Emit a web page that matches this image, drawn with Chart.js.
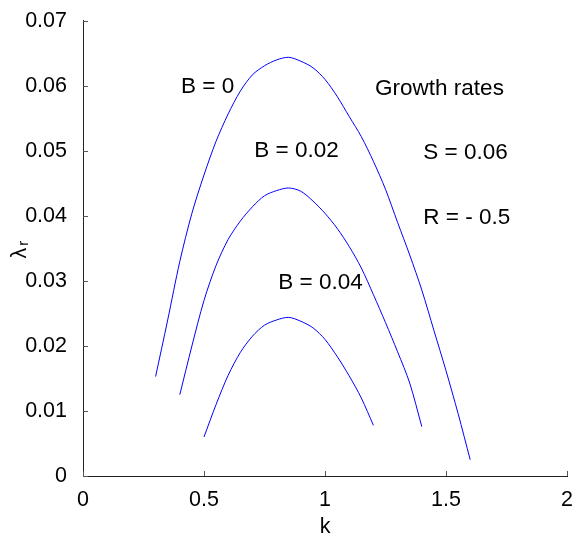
<!DOCTYPE html>
<html lang="en">
<head>
  <meta charset="UTF-8">
  <title>Growth rates</title>
  <script src="https://cdn.jsdelivr.net/npm/chart.js@4"></script>
  <style>
    html, body { margin: 0; padding: 0; background: #fff; }
    #wrap { width: 585px; height: 540px; }
  </style>
</head>
<body>
<div id="wrap"><canvas id="myChart" width="585" height="540"></canvas></div>
<script>
// wavenumber k, growth rate lambda_r for three values of B
var k0 = [0.30,0.35,0.40,0.45,0.50,0.55,0.60,0.65,0.70,0.75,0.80,0.85,0.90,0.95,1.00,1.05,1.10,1.15,1.20,1.25,1.30,1.35,1.40,1.45,1.50,1.55,1.60];
var lamB0 = [0.0153,0.0240,0.0330,0.0404,0.0463,0.0515,0.0557,0.0592,0.0617,0.0631,0.0640,0.0644,0.0638,0.0628,0.0610,0.0584,0.0553,0.0522,0.0484,0.0441,0.0390,0.0340,0.0286,0.0224,0.0162,0.0096,0.0025];

var k2 = [0.40,0.45,0.50,0.55,0.60,0.65,0.70,0.75,0.80,0.85,0.90,0.95,1.00,1.05,1.10,1.15,1.20,1.25,1.30,1.35,1.40];
var lamB2 = [0.0125,0.0200,0.0270,0.0324,0.0364,0.0392,0.0414,0.0431,0.0439,0.0443,0.0438,0.0423,0.0404,0.0381,0.0353,0.0320,0.0279,0.0236,0.0191,0.0143,0.0076];

var k4 = [0.50,0.55,0.60,0.65,0.70,0.75,0.80,0.85,0.90,0.95,1.00,1.05,1.10,1.15,1.20];
var lamB4 = [0.0060,0.0110,0.0155,0.0190,0.0215,0.0232,0.0240,0.0244,0.0238,0.0228,0.0210,0.0184,0.0154,0.0120,0.0078];

var xTicks = [0, 0.5, 1, 1.5, 2];
var yTicks = [0, 0.01, 0.02, 0.03, 0.04, 0.05, 0.06, 0.07];

var notes = ["B = 0", "B = 0.02", "B = 0.04", "Growth rates", "S = 0.06", "R = - 0.5"];
// where each note sits (left edge k, middle lambda)
var noteK = [0.405, 0.708, 0.807, 1.207, 1.406, 1.406];
var noteL = [0.0598, 0.0500, 0.0297, 0.0596, 0.0497, 0.0397];

var FONT = '"Liberation Sans", Arial, Helvetica, sans-serif';
var FS = 21.5;   // tick labels
var NS = 22.5;   // notes

function pts(xs, ys) {
  return xs.map(function (x, i) { return { x: x, y: ys[i] }; });
}

var extras = {
  id: 'extras',
  afterDraw: function (chart) {
    var c = chart.ctx, xs = chart.scales.x, ys = chart.scales.y, a = chart.chartArea;
    c.save();
    // inward ticks
    c.strokeStyle = '#555';
    c.lineWidth = 1;
    xTicks.forEach(function (t) {
      var px = Math.round(xs.getPixelForValue(t)) + 0.5;
      c.beginPath(); c.moveTo(px, a.bottom); c.lineTo(px, a.bottom - 5); c.stroke();
    });
    yTicks.forEach(function (t) {
      var py = Math.round(ys.getPixelForValue(t)) + 0.5;
      c.beginPath(); c.moveTo(a.left, py); c.lineTo(a.left + 5, py); c.stroke();
    });
    // notes
    c.fillStyle = '#000';
    c.font = NS + 'px ' + FONT;
    c.textAlign = 'left';
    c.textBaseline = 'middle';
    notes.forEach(function (s, i) {
      c.fillText(s, xs.getPixelForValue(noteK[i]), ys.getPixelForValue(noteL[i]));
    });
    // y label lambda_r
    c.translate(20, 249);
    c.rotate(-Math.PI / 2);
    c.font = FS + 'px ' + FONT;
    var w = c.measureText('λ').width;
    c.fillText('λ', -w / 2 - 4, 0);
    c.font = '15px ' + FONT;
    c.fillText('r', w / 2 - 2, 4);
    c.restore();
  }
};

var ctx = document.getElementById('myChart').getContext('2d');
var chart = new Chart(ctx, {
  type: 'line',
  data: {
    datasets: [
      { data: pts(k0, lamB0) },
      { data: pts(k2, lamB2) },
      { data: pts(k4, lamB4) }
    ]
  },
  options: {
    responsive: false,
    animation: false,
    events: [],
    layout: { padding: { top: 18, right: 18, left: 0, bottom: 0 } },
    elements: {
      line: { borderColor: '#0000ff', borderWidth: 1, tension: 0.3, fill: false },
      point: { radius: 0 }
    },
    plugins: { legend: { display: false }, tooltip: { enabled: false } },
    scales: {
      x: {
        type: 'linear', min: 0, max: 2,
        afterBuildTicks: function (s) { s.ticks = xTicks.map(function (v) { return { value: v }; }); },
        afterFit: function (s) { s.height = 64; },
        grid: { display: false },
        border: { display: true, color: '#222', width: 1 },
        ticks: {
          color: '#000', padding: 3, maxRotation: 0,
          font: { family: FONT, size: FS },
          callback: function (v) { return String(+v.toFixed(1)); }
        },
        title: { display: true, text: 'k', color: '#000', font: { family: FONT, size: FS }, padding: { top: 0, bottom: 0 } }
      },
      y: {
        type: 'linear', min: 0, max: 0.07,
        afterBuildTicks: function (s) { s.ticks = yTicks.map(function (v) { return { value: v }; }); },
        afterFit: function (s) { s.width = 83; },
        grid: { display: false },
        border: { display: true, color: '#222', width: 1 },
        ticks: {
          color: '#000', padding: 8,
          font: { family: FONT, size: FS },
          callback: function (v) { return String(+v.toFixed(2)); }
        }
      }
    }
  },
  plugins: [extras]
});
</script>
</body>
</html>
